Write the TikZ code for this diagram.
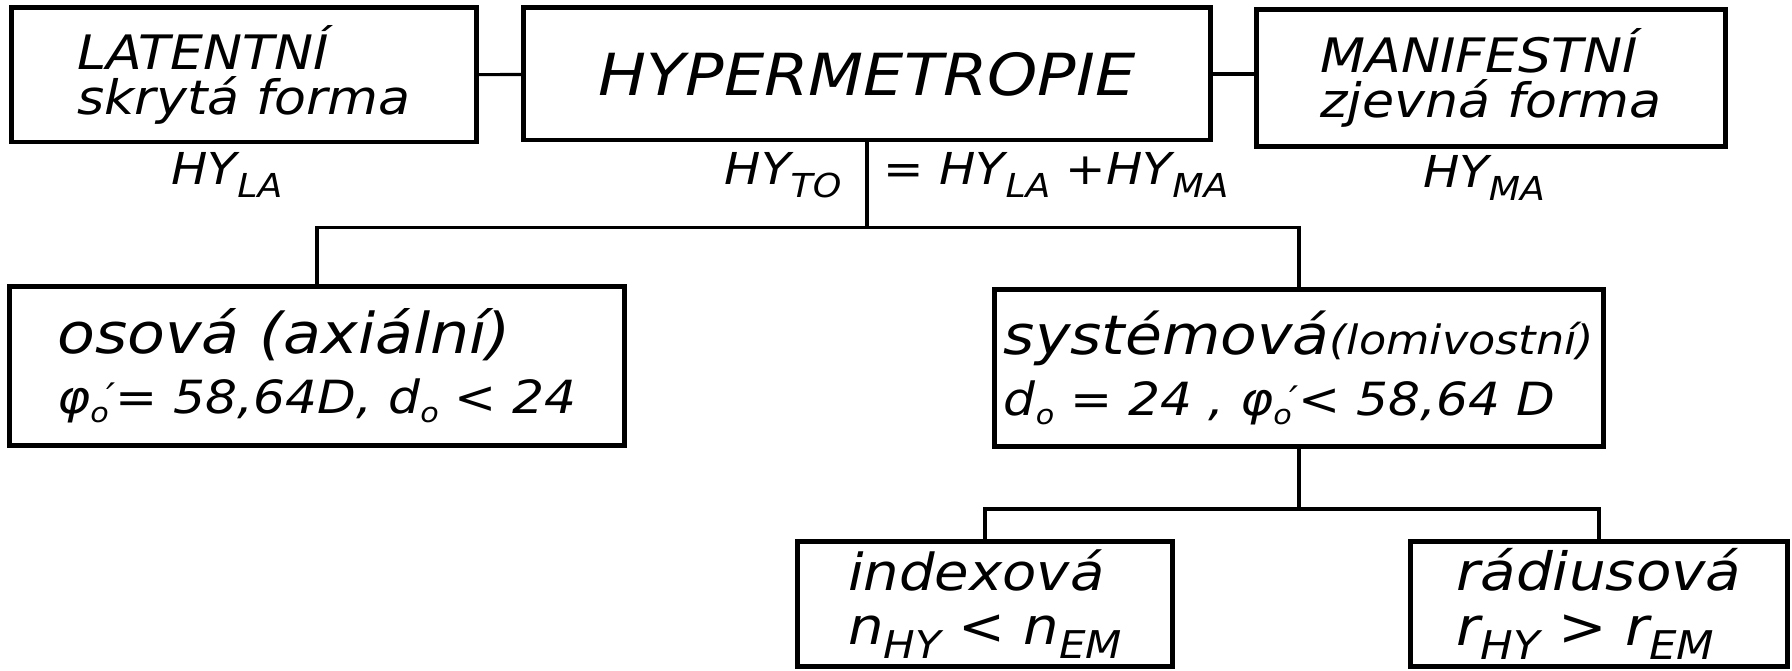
\documentclass[tikz,border=0pt]{standalone}
\usepackage{fontspec}
\setmainfont{DejaVu Sans}[FakeStretch=1.1]
\tikzset{box/.style={draw,line width=1.4pt,align=left,inner sep=0pt},
  lbl/.style={inner sep=0pt,font=\itshape\fontsize{12.5}{14}\selectfont},
  link/.style={line width=0.9pt}}
\newcommand{\lo}[1]{\raisebox{-.5ex}{\scalebox{.75}{#1}}}
\newcommand{\nul}{\raisebox{-.35ex}{\scalebox{.6}{o}}}
\newcommand{\phio}{φ\nul\kern-.05em\raisebox{.15ex}{\scalebox{.8}{′}}}
\begin{document}
\begin{tikzpicture}[x=0.01cm,y=-0.01cm]
\useasboundingbox (0,0) rectangle (1792,670);
% top row
\node[box,minimum width=4.64cm,minimum height=1.34cm,font=\itshape\fontsize{13.5}{13}\selectfont] (lat) at (244,75) {LATENTNÍ\\skrytá forma};
\node[box,minimum width=6.86cm,minimum height=1.32cm,font=\itshape\fontsize{16.5}{17}\selectfont] (hyp) at (867,74) {HYPERMETROPIE};
\node[box,minimum width=4.69cm,minimum height=1.37cm,font=\itshape\fontsize{13.5}{13}\selectfont] (man) at (1491,78) {MANIFESTNÍ\\zjevná forma};
\node[lbl,anchor=base] (hyla) at (227,185) {HY\lo{LA}};
\node[lbl,anchor=base east] (hyto) at (842,185) {HY\lo{TO}};
\node[lbl,anchor=base west] (hysum) at (883,185) {= HY\lo{LA} +HY\lo{MA}};
\node[lbl,anchor=base] (hyma) at (1484,188) {HY\lo{MA}};
% second row
\node[box,minimum width=6.15cm,minimum height=1.58cm,font=\itshape\fontsize{16}{17}\selectfont] (osova) at (317,366) {osová (axiální)\\{\fontsize{13}{17}\selectfont\phio= 58,64D, d\nul{} < 24}};
\node[box,minimum width=6.09cm,minimum height=1.57cm,font=\itshape\fontsize{15.5}{17.5}\selectfont] (sys) at (1299,368) {systémová{\fontsize{11.5}{12}\selectfont(lomivostní)}\\{\fontsize{13}{17.5}\selectfont d\nul{} = 24 , \phio< 58,64 D}};
% third row
\node[box,minimum width=3.74cm,minimum height=1.25cm,font=\itshape\fontsize{14.5}{15.5}\selectfont] (idx) at (985,604) {indexová\\n\lo{HY} < n\lo{EM}};
\node[box,minimum width=3.76cm,minimum height=1.25cm,font=\itshape\fontsize{15}{15.5}\selectfont] (rad) at (1599,604) {rádiusová\\r\lo{HY} > r\lo{EM}};
% connectors
\draw[link] (lat) -- (hyp);
\draw[link] (hyp.east) -- (hyp.east -| man.west);
\path (hyp.south) ++(0,85) coordinate (j1);
\draw[link] (hyp.south) -- (j1);
\draw[link] (osova.north) |- (j1) -| (sys.north);
\path (sys.south) ++(0,60) coordinate (j2);
\draw[link] (sys.south) -- (j2);
\draw[link] (idx.north) |- (j2) -| (rad.north);
\end{tikzpicture}
\end{document}
